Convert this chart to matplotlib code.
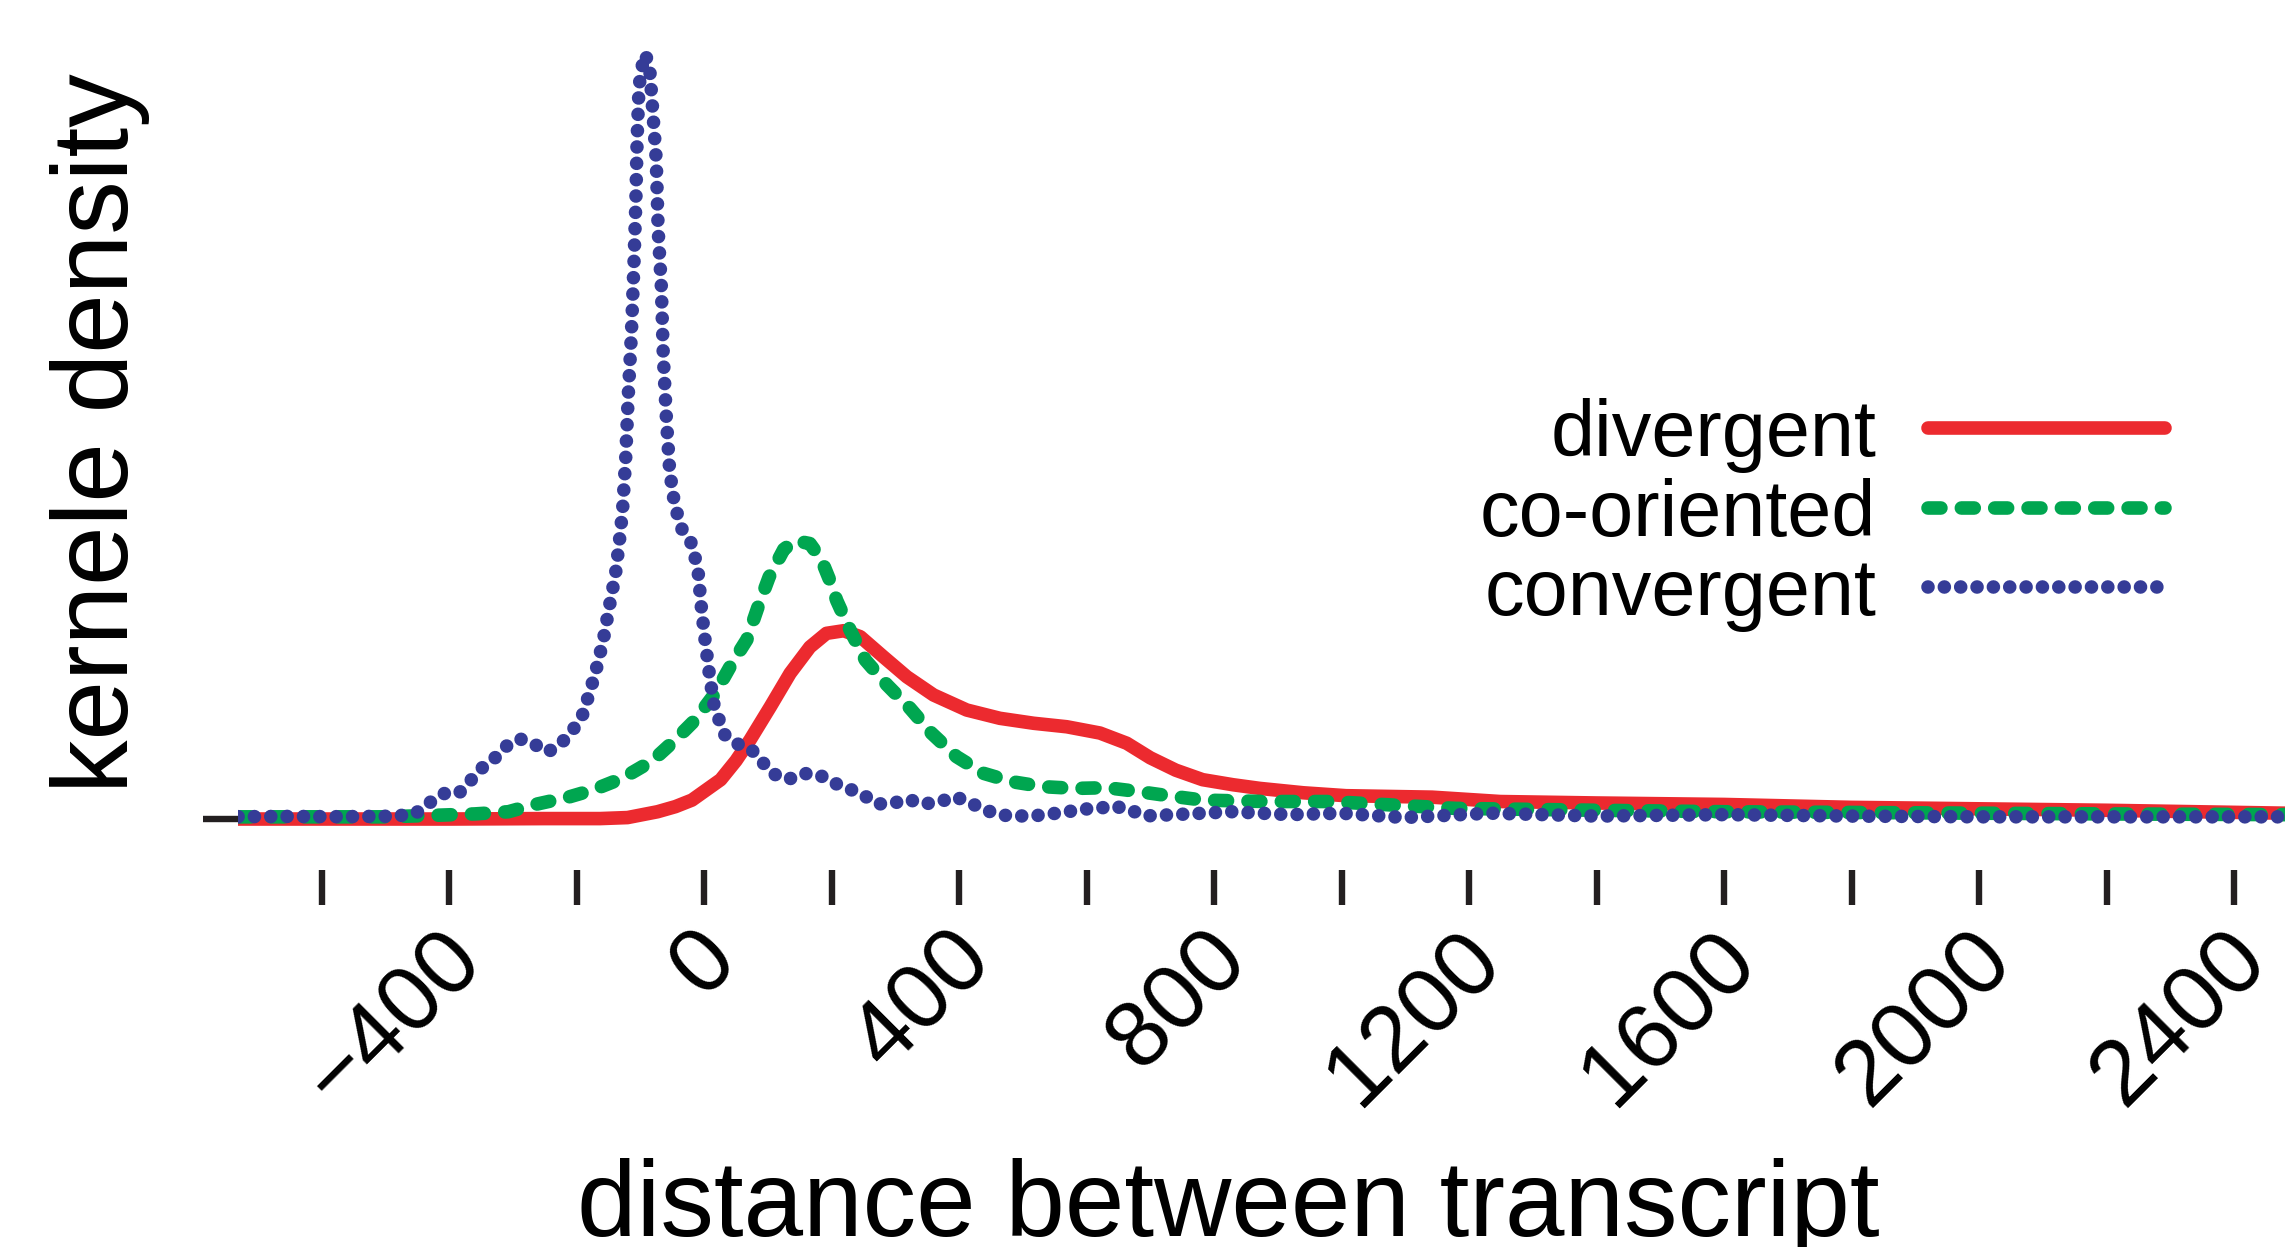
import matplotlib
matplotlib.use("Agg")
import matplotlib.pyplot as plt
from matplotlib.ticker import NullFormatter
from matplotlib.transforms import ScaledTranslation

plt.rcParams['font.family'] = ['Liberation Sans', 'DejaVu Sans']

# kernel density (x1e-3), one series per orientation
div_x = [-731, -400, -250, -163, -120, -73, -45, -19, 26, 50, 72, 104, 135, 166, 192,
         219, 245, 281, 318, 360, 412, 464, 517, 569, 621, 663, 700, 740, 782, 830,
         872, 940, 1007, 1142, 1249, 1400, 1600, 1800, 2000, 2200, 2480]
div_y = [0.0, 0.0, 0.003, 0.003, 0.01, 0.05, 0.085, 0.13, 0.27, 0.40, 0.542, 0.771,
         1.0, 1.18, 1.274, 1.292, 1.251, 1.114, 0.976, 0.851, 0.748, 0.691, 0.657,
         0.633, 0.59, 0.52, 0.42, 0.335, 0.27, 0.235, 0.21, 0.18, 0.16, 0.15, 0.12,
         0.11, 0.10, 0.08, 0.07, 0.06, 0.04]

co_x = [-731, -600, -500, -412, -360, -307, -269, -213, -174, -128, -81, -46, -14, 17,
        44, 67, 85, 102, 125, 143, 166, 184, 197, 208, 229, 253, 287, 323, 357, 396,
        438, 483, 532, 582, 632, 684, 728, 782, 881, 981, 1080, 1179, 1400, 1600, 1800,
        2000, 2200, 2480]
co_y = [0.015, 0.015, 0.015, 0.027, 0.035, 0.05, 0.096, 0.15, 0.20, 0.28, 0.40, 0.54,
        0.68, 0.86, 1.07, 1.23, 1.46, 1.66, 1.85, 1.91, 1.89, 1.78, 1.64, 1.50, 1.297,
        1.091, 0.92, 0.76, 0.588, 0.428, 0.314, 0.256, 0.222, 0.21, 0.215, 0.187,
        0.16, 0.13, 0.12, 0.12, 0.096, 0.073, 0.06, 0.05, 0.045, 0.04, 0.035, 0.03]

conv_x = [-731, -650, -580, -520, -480, -448, -428, -407, -384, -365, -347, -328, -310,
          -289, -265, -245, -224, -206, -191, -178, -169, -158, -149, -139, -133, -128,
          -123, -119, -114, -110, -107, -105, -102, -94, -86, -82, -75, -72, -67, -64,
          -59, -54, -46, -34, -18, -9, -4, 2, 9, 16, 32, 50, 75, 91, 109, 132, 156,
          181, 203, 226, 250, 271, 296, 320, 344, 370, 394, 417, 441, 465, 490, 516,
          541, 566, 591, 618, 642, 666, 691, 737, 828, 918, 999, 1098, 1233, 1400,
          1600, 1800, 2000, 2200, 2480]
conv_y = [0.016, 0.018, 0.016, 0.018, 0.02, 0.05, 0.12, 0.176, 0.18, 0.27, 0.356, 0.42,
          0.50, 0.55, 0.51, 0.46, 0.52, 0.61, 0.71, 0.89, 1.03, 1.23, 1.45, 1.68, 1.90,
          2.11, 2.47, 2.90, 3.33, 3.81, 4.24, 4.67, 5.03, 5.25, 5.19, 4.95, 4.52, 4.04,
          3.65, 3.18, 2.74, 2.39, 2.15, 1.98, 1.88, 1.68, 1.44, 1.21, 0.97, 0.77, 0.58,
          0.52, 0.473, 0.393, 0.309, 0.272, 0.313, 0.302, 0.249, 0.21, 0.165, 0.103,
          0.108, 0.135, 0.103, 0.119, 0.153, 0.112, 0.062, 0.027, 0.021, 0.021, 0.034,
          0.046, 0.067, 0.073, 0.089, 0.067, 0.021, 0.03, 0.05, 0.03, 0.04, 0.01, 0.04,
          0.02, 0.03, 0.02, 0.015, 0.015, 0.015]

labels = ['divergent', 'co-oriented', 'convergent']
colors = ['#ec2a2f', '#00a650', '#353c97']

xticks_major = [-400, 0, 400, 800, 1200, 1600, 2000, 2400]
xticks_minor = [-600, -200, 200, 600, 1000, 1400, 1800, 2200]
xtick_labels = ['\u2212400', '0', '400', '800', '1200', '1600', '2000', '2400']

fig = plt.figure(figsize=(22.85, 12.47), dpi=100)
ax = fig.add_axes([0.1042, 0.3023, 0.8958, 0.6656])

lw = 9.8
ax.plot(div_x, div_y, color=colors[0], lw=lw, solid_capstyle='round', label=labels[0])
ax.plot(co_x, co_y, color=colors[1], lw=lw, linestyle=(0, (0.95, 1.5)),
        dash_capstyle='round', label=labels[1])
ax.plot(conv_x, conv_y, color=colors[2], lw=lw, linestyle=(0, (0.001, 1.2)),
        dash_capstyle='round', label=labels[2])

ax.set_xlim(-731, 2480)
ax.set_ylim(-0.35, 5.345)

for s in ax.spines.values():
    s.set_visible(False)

ax.set_xticks(xticks_major, xtick_labels)
ax.set_xticks(xticks_minor, minor=True)
ax.set_yticks([0])
ax.yaxis.set_major_formatter(NullFormatter())
ax.tick_params(axis='both', which='both', length=25, width=4.6, color='#231f20',
               direction='out')
ax.tick_params(axis='x', which='major', labelsize=67, pad=7)
shift = ScaledTranslation(-0.12, 0, fig.dpi_scale_trans)
for lab in ax.get_xticklabels():
    lab.set_rotation(45)
    lab.set_ha('right')
    lab.set_va('top')
    lab.set_rotation_mode('anchor')
    lab.set_transform(lab.get_transform() + shift)

fig.text(0.5374, 0.0088, 'distance between transcript', ha='center', va='baseline',
         fontsize=77)
fig.text(0.056, 0.6524, 'kernele density', rotation=90, rotation_mode='anchor',
         ha='center', va='baseline', fontsize=77)

ax.legend(loc='center right', bbox_to_anchor=(0.9476, 0.587),
          bbox_transform=fig.transFigure, frameon=False, markerfirst=False,
          handlelength=3.0, handletextpad=0.65, labelspacing=0.058, borderpad=0,
          borderaxespad=0, prop={'size': 57})

fig.savefig('out.png', dpi=100)
